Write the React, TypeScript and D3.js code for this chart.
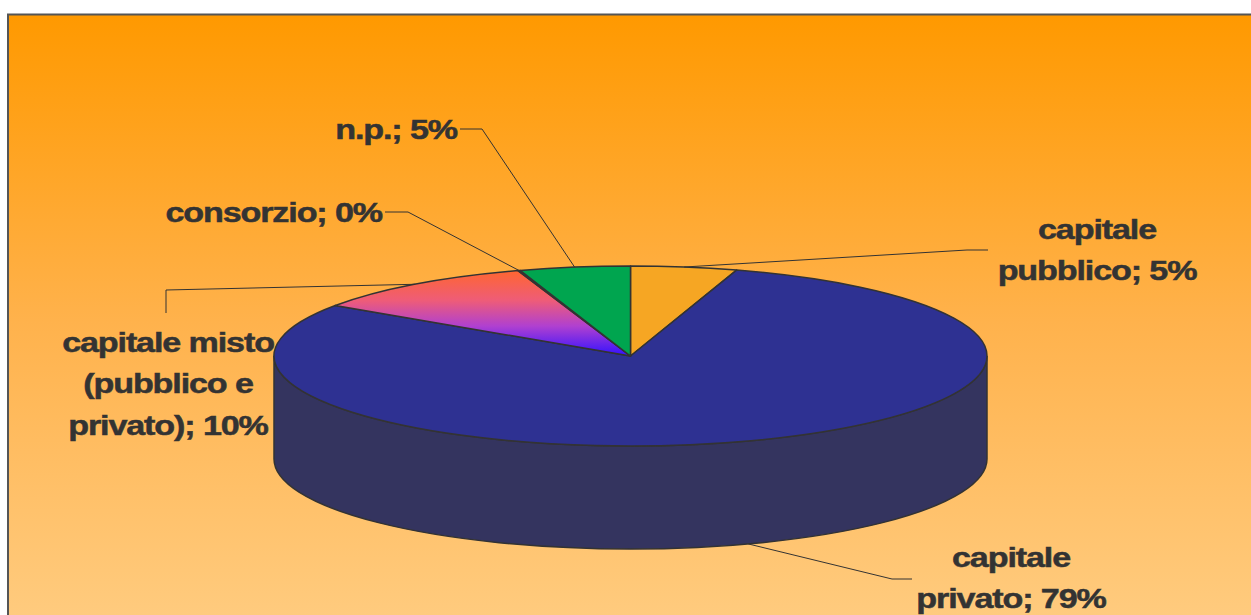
import React from "react";
import * as d3 from "d3";

const categories = ["capitale pubblico", "capitale privato", "capitale misto (pubblico e privato)", "consorzio", "n.p."];
const values = [4.8, 79.5, 10.4, 0.1, 5.0];
const colors = ["#F6A623", "#2E3192", "url(#mistoGrad)", "#E8693A", "#00A54F"];
const sideColors = ["#B57A1A", "#34345F", "#3A2A8A", "#A04A2A", "#007A3A"];

const labelLines = [
  ["capitale", "pubblico; 5%"],
  ["capitale", "privato; 79%"],
  ["capitale misto", "(pubblico e", "privato); 10%"],
  ["consorzio; 0%"],
  ["n.p.; 5%"],
];
const labelPos = [
  { x: 1097, y: 239, anchor: "middle" },
  { x: 1011, y: 567, anchor: "middle" },
  { x: 168, y: 352, anchor: "middle" },
  { x: 382, y: 222, anchor: "end" },
  { x: 457, y: 139, anchor: "end" },
];
const leaderEnds = [
  [[967, 250], [988, 250]],
  [[892, 579], [912, 579]],
  [[166, 290], [166, 313]],
  [[408, 212], [385, 212]],
  [[482, 129], [460, 129]],
];

const W = 1251, H = 615;
const cx = 630.5, cy = 356, rx = 356.5, ry = 90, depth = 103;
const FS = 27.5, SX = 1.24, LH = 41.5;

function pt(a: number, dy = 0): [number, number] {
  return [cx + rx * Math.sin(a), cy - ry * Math.cos(a) + dy];
}

export default function App() {
  const pie = d3.pie<number>().sort(null).value((d) => d)(values);

  const topPath = (a0: number, a1: number) => {
    const p0 = pt(a0), p1 = pt(a1);
    const large = a1 - a0 > Math.PI ? 1 : 0;
    return `M${cx},${cy}L${p0[0]},${p0[1]}A${rx},${ry} 0 ${large} 1 ${p1[0]},${p1[1]}Z`;
  };
  const sidePath = (a0: number, a1: number) => {
    const s = Math.max(a0, Math.PI / 2), e = Math.min(a1, (3 * Math.PI) / 2);
    if (e <= s) return null;
    const p0 = pt(s), p1 = pt(e), q1 = pt(e, depth), q0 = pt(s, depth);
    const large = e - s > Math.PI ? 1 : 0;
    return `M${p0[0]},${p0[1]}A${rx},${ry} 0 ${large} 1 ${p1[0]},${p1[1]}L${q1[0]},${q1[1]}A${rx},${ry} 0 ${large} 0 ${q0[0]},${q0[1]}Z`;
  };

  const leaders = pie.map((s, i) => {
    const mid = (s.startAngle + s.endAngle) / 2;
    const front = mid > Math.PI / 2 && mid < (3 * Math.PI) / 2;
    const a = pt(mid, front ? depth : 0);
    const [p1, p2] = leaderEnds[i];
    return `M${a[0]},${a[1]}L${p1[0]},${p1[1]}L${p2[0]},${p2[1]}`;
  });

  return (
    <svg width={W} height={H} style={{ position: "absolute", left: 0, top: 0 }}>
      <defs>
        <linearGradient id="bg" x1="0" y1="0" x2="0" y2="1">
          <stop offset="0" stopColor="#FF9900" />
          <stop offset="0.5" stopColor="#FFB24C" />
          <stop offset="1" stopColor="#FFCC80" />
        </linearGradient>
        <linearGradient id="mistoGrad" x1="0" y1="0" x2="0" y2="1">
          <stop offset="0" stopColor="#FF6630" />
          <stop offset="0.35" stopColor="#EE5C78" />
          <stop offset="0.65" stopColor="#B040D0" />
          <stop offset="1" stopColor="#3311FF" />
        </linearGradient>
      </defs>
      <rect x={0} y={0} width={W} height={H} fill="#fff" />
      <rect x={8} y={14} width={W} height={H} fill="url(#bg)" />
      <path d={`M8,${H}V14.5H${W}`} fill="none" stroke="#555" strokeWidth={2} />
      {pie.map((s, i) => {
        const d = sidePath(s.startAngle, s.endAngle);
        return d ? <path key={"s" + i} d={d} fill={sideColors[i]} stroke="#333" strokeWidth={1.5} /> : null;
      })}
      {pie.map((s, i) =>
        s.endAngle - s.startAngle > 0.005 ? (
          <path key={"t" + i} d={topPath(s.startAngle, s.endAngle)} fill={colors[i]} stroke="#333" strokeWidth={1.5} strokeLinejoin="round" />
        ) : null
      )}
      {leaders.map((d, i) => (
        <path key={"l" + i} d={d} fill="none" stroke="#333" strokeWidth={1} />
      ))}
      {labelLines.map((lines, i) => {
        const p = labelPos[i];
        return (
          <g key={"lab" + i} transform={`translate(${p.x},${p.y}) scale(${SX},1)`}>
            {lines.map((ln, j) => (
              <text
                key={j}
                x={0}
                y={j * LH}
                textAnchor={p.anchor as any}
                fontFamily="'Liberation Sans', Arial, sans-serif"
                fontWeight="bold"
                fontSize={FS}
                letterSpacing={-0.9}
                fill="#333333"
                stroke="#333333"
                strokeWidth={0.5}
              >
                {ln}
              </text>
            ))}
          </g>
        );
      })}
    </svg>
  );
}
